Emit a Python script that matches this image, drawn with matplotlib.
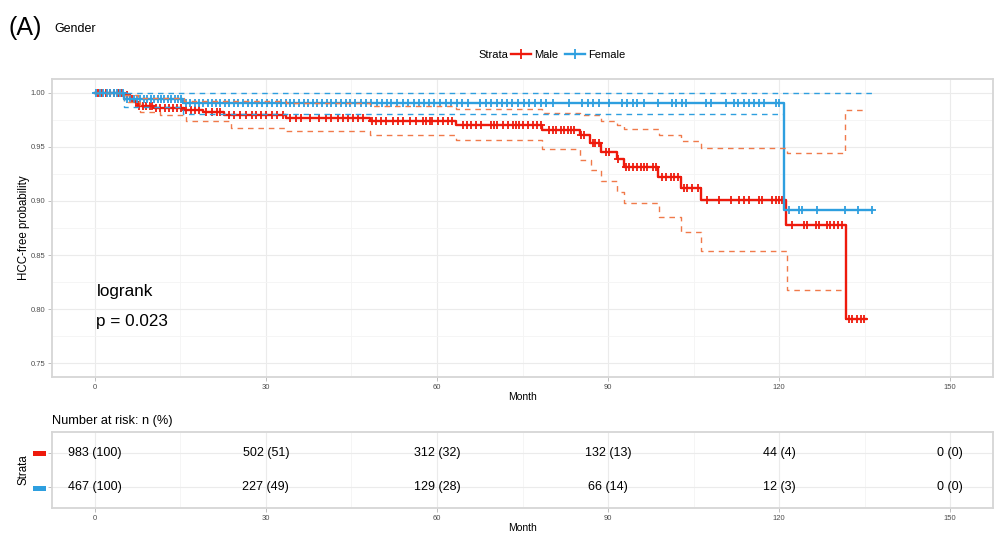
import numpy as np
import matplotlib
matplotlib.use("Agg")
import matplotlib.pyplot as plt
from matplotlib.patches import Rectangle
from matplotlib.lines import Line2D

plt.rcParams['font.family'] = ['Liberation Sans', 'DejaVu Sans']

# ---------------- data ----------------
x_ticks = [0, 30, 60, 90, 120, 150]
y_ticks = [0.75, 0.80, 0.85, 0.90, 0.95, 1.00]
strata = ["Male", "Female"]
colors = ["#EE1A0C", "#2E9FDF"]
ci_colors = ["#F07A4A", "#2E9FDF"]

male_t = [0, 5.2, 6.1, 6.9, 7.5, 10.4, 15.7, 18.9, 22.7, 33.6, 48.2, 63.3, 78.5,
          85.0, 86.9, 88.8, 91.6, 92.8, 98.8, 102.8, 106.3, 121.2, 131.7]
male_s = [1.0, 0.998, 0.994, 0.991, 0.9875, 0.9857, 0.9835, 0.982, 0.979, 0.9763,
          0.9735, 0.9704, 0.965, 0.9606, 0.9536, 0.9454, 0.9384, 0.931, 0.922,
          0.912, 0.901, 0.878, 0.791]
male_end = 135.2

male_up_t = [0, 5.2, 7.5, 15.7, 33.6, 48.2, 63.4, 78.5, 85.0, 88.8, 91.6, 92.8,
             98.9, 102.8, 106.3, 121.3, 131.5]
male_up = [1.0, 0.998, 0.995, 0.992, 0.990, 0.9875, 0.985, 0.9815, 0.979, 0.974,
           0.970, 0.966, 0.961, 0.9555, 0.949, 0.9445, 0.9835]
male_up_end = 134.8

male_lo_t = [0, 5.2, 7.9, 11.4, 16.0, 23.9, 33.6, 48.2, 63.4, 78.5, 85.0, 87.0,
             88.8, 91.6, 92.8, 98.9, 102.8, 106.3, 121.3]
male_lo = [1.0, 0.991, 0.982, 0.979, 0.974, 0.967, 0.9646, 0.961, 0.956, 0.948,
           0.938, 0.9286, 0.918, 0.908, 0.898, 0.885, 0.871, 0.854, 0.818]
male_lo_end = 131.5

fem_t = [0, 5.2, 15.4, 120.8]
fem_s = [1.0, 0.994, 0.990, 0.892]
fem_end = 136.3

fem_up_t = [0]
fem_up = [1.0]
fem_up_end = 136.3

fem_lo_t = [0, 5.2, 15.4]
fem_lo = [1.0, 0.9866, 0.9805]
fem_lo_end = 120.8

male_cens = [0.5, 1.2, 1.9, 2.6, 3.3, 4.0, 4.7, 5.6, 6.5, 7.2, 7.8, 8.4, 9.0, 9.6,
             10.0, 10.8, 11.5, 12.3, 13.0, 13.8, 14.5, 15.2, 16.0, 16.8, 17.5, 18.2,
             19.5, 20.5, 21.5, 22.0, 23.5, 24.5, 25.5, 26.5, 27.5, 28.3, 29.2, 30.0,
             31.0, 32.0, 33.0, 34.2, 35.3, 36.2, 37.7, 39.4, 40.6, 41.5, 42.6, 43.5,
             44.4, 45.2, 46.1, 47.0, 48.6, 49.3, 50.2, 51.1, 52.3, 53.1, 54.0, 55.2,
             56.3, 57.5, 58.1, 58.7, 59.2, 60.1, 61.0, 61.9, 62.7, 64.5, 65.2, 66.0,
             66.8, 67.7, 69.5, 70.0, 70.6, 71.5, 72.4, 73.3, 73.8, 74.4, 75.0, 75.9,
             76.8, 77.6, 78.2, 79.7, 80.3, 80.9, 81.7, 82.3, 82.9, 83.5, 84.1, 85.2,
             85.8, 87.3, 87.8, 88.4, 89.6, 90.2, 91.8, 93.1, 93.7, 94.3, 95.1, 95.7,
             96.3, 96.9, 97.8, 98.4, 99.5, 100.1, 101.0, 101.6, 102.2, 103.3, 103.9,
             104.8, 105.7, 107.4, 109.5, 111.5, 113.0, 113.8, 114.7, 116.5, 117.0,
             118.8, 119.4, 120.0, 120.5, 122.3, 124.3, 124.8, 126.4, 127.0, 128.4,
             129.0, 129.6, 130.4, 131.0, 132.2, 132.8, 133.7, 134.3, 134.8]

fem_cens = [0.3, 0.9, 1.5, 2.1, 2.7, 3.3, 3.9, 4.5, 5.0, 5.6, 6.2, 6.8, 7.4, 8.0,
            8.6, 9.2, 9.8, 10.4, 11.0, 11.6, 12.2, 12.8, 13.4, 14.0, 14.6, 15.1,
            16.0, 16.7, 17.5, 18.2, 19.0, 19.8, 20.5, 21.3, 22.0, 22.8, 23.6, 24.4,
            25.2, 26.0, 26.8, 27.6, 28.5, 29.4, 30.2, 31.0, 31.9, 32.6, 33.5, 34.2,
            35.0, 35.8, 36.6, 37.4, 38.2, 39.0, 39.9, 40.7, 41.5, 42.3, 43.2, 44.0,
            44.8, 45.7, 46.6, 47.5, 48.5, 49.4, 50.3, 51.2, 52.0, 53.0, 54.0, 55.0,
            55.9, 56.8, 57.7, 58.6, 59.5, 60.5, 61.5, 62.5, 63.5, 64.4, 65.5, 67.5,
            68.6, 69.5, 70.5, 71.4, 72.3, 73.2, 74.2, 75.2, 76.2, 77.2, 78.2, 79.2,
            80.3, 83.2, 85.5, 86.4, 87.3, 88.4, 90.2, 92.5, 93.4, 94.3, 95.1, 96.3,
            98.7, 101.3, 101.9, 103.0, 103.6, 107.1, 108.0, 110.6, 112.1, 112.7,
            113.8, 114.7, 115.6, 116.5, 117.3, 119.4, 120.0, 121.7, 123.5, 124.0,
            126.6, 131.5, 133.8, 136.3]

risk_times = [0, 30, 60, 90, 120, 150]
risk_male = ["983 (100)", "502 (51)", "312 (32)", "132 (13)", "44 (4)", "0 (0)"]
risk_female = ["467 (100)", "227 (49)", "129 (28)", "66 (14)", "12 (3)", "0 (0)"]

# ---------------- figure ----------------
W, H = 1003, 538
fig = plt.figure(figsize=(W / 100, H / 100), dpi=100)


def fr(x0, y0, x1, y1):
    return [x0 / W, 1 - y1 / H, (x1 - x0) / W, (y1 - y0) / H]


ax = fig.add_axes(fr(52, 79, 993, 377))
ax2 = fig.add_axes(fr(52, 432, 993, 508))

grid_major = "#EBEBEB"
grid_minor = "#F4F4F4"
border = "#D6D6D6"
tick_col = "#B3B3B3"
lab_col = "#4D4D4D"


def style(a):
    for s in a.spines.values():
        s.set_color(border)
        s.set_linewidth(1.3)
    a.tick_params(axis="both", colors=tick_col, labelcolor=lab_col,
                  labelsize=5.5, length=3, width=0.6, pad=2)
    a.set_axisbelow(True)


def stepxy(t, s, end):
    return list(t) + [end], list(s) + [s[-1]]


# main plot
style(ax)
ax.set_xlim(-7.5, 157.5)
ax.set_ylim(0.7375, 1.0125)
ax.set_xticks(x_ticks)
ax.set_yticks(y_ticks)
ax.set_yticklabels([f"{v:.2f}" for v in y_ticks])
ax.set_xticks([15, 45, 75, 105, 135], minor=True)
ax.set_yticks([0.775, 0.825, 0.875, 0.925, 0.975], minor=True)
ax.tick_params(which="minor", length=0)
ax.grid(which="major", color=grid_major, lw=0.8)
ax.grid(which="minor", color=grid_minor, lw=0.6)

curves = [
    (male_t, male_s, male_end, male_up_t, male_up, male_up_end,
     male_lo_t, male_lo, male_lo_end, male_cens),
    (fem_t, fem_s, fem_end, fem_up_t, fem_up, fem_up_end,
     fem_lo_t, fem_lo, fem_lo_end, fem_cens),
]

for i, (t, s, e, ut, us, ue, lt, ls, le, cens) in enumerate(curves):
    c = colors[i]
    xs, ys = stepxy(t, s, e)
    ax.step(xs, ys, where="post", color=c, lw=1.7, zorder=3 + i)
    cy = [s[np.searchsorted(t, ct, side="right") - 1] for ct in cens]
    ax.plot(cens, cy, ls="none", marker="+", ms=6, mew=1.3, color=c,
            zorder=3 + i)
for i, (t, s, e, ut, us, ue, lt, ls, le, cens) in enumerate(curves):
    cc = ci_colors[i]
    for bt, bs, be in ((ut, us, ue), (lt, ls, le)):
        xs, ys = stepxy(bt, bs, be)
        ax.step(xs, ys, where="post", color=cc, lw=1.0, ls=(0, (4, 3.5)),
                zorder=5)

ax.set_xlabel("Month", fontsize=7.5, labelpad=1)
ax.set_ylabel("HCC-free probability", fontsize=8.3)
ax.yaxis.set_label_coords((30 - 52) / 941, 0.5)

ax.text(0.3, 0.816, "logrank", fontsize=12.3, va="center", ha="left")
ax.text(0.3, 0.789, "p = 0.023", fontsize=12.3, va="center", ha="left")

# legend
fig.text(478 / W, 1 - 55 / H, "Strata", fontsize=8, va="center", ha="left")
handles = [Line2D([0], [0], color=colors[i], lw=1.7, marker="+", ms=7, mew=1.3)
           for i in range(2)]
fig.legend(handles, strata, loc="center left",
           bbox_to_anchor=(511 / W, 1 - 55 / H), ncol=2, frameon=False,
           fontsize=8, handlelength=1.8, handletextpad=0.3,
           columnspacing=0.6, borderpad=0, borderaxespad=0)

# title
fig.text(9 / W, 1 - 28 / H, "(A)", fontsize=18, va="center", ha="left")
fig.text(54 / W, 1 - 29 / H, "Gender", fontsize=9, va="center", ha="left")

# risk table
style(ax2)
ax2.set_xlim(-7.5, 157.5)
ax2.set_ylim(0.4, 2.6)
ax2.set_xticks(x_ticks)
ax2.set_xticks([15, 45, 75, 105, 135], minor=True)
ax2.set_yticks([1, 2])
ax2.set_yticklabels(["", ""])
ax2.tick_params(which="minor", length=0)
ax2.grid(which="major", color=grid_major, lw=0.8)
ax2.grid(which="minor", axis="x", color=grid_minor, lw=0.6)
for xt, m, f in zip(risk_times, risk_male, risk_female):
    ax2.text(xt, 2, m, fontsize=9, ha="center", va="center")
    ax2.text(xt, 1, f, fontsize=9, ha="center", va="center")
ax2.set_xlabel("Month", fontsize=7.5, labelpad=1)
ax2.set_ylabel("Strata", fontsize=8.3)
ax2.yaxis.set_label_coords((30 - 52) / 941, 0.5)
ax2.set_title("Number at risk: n (%)", fontsize=9.2, loc="left", pad=6)

for i, yc in enumerate([453, 488]):
    fig.add_artist(Rectangle((33 / W, 1 - (yc + 2.5) / H), 13 / W, 5 / H,
                             transform=fig.transFigure, color=colors[i],
                             lw=0))

fig.savefig("out.png", dpi=100)
